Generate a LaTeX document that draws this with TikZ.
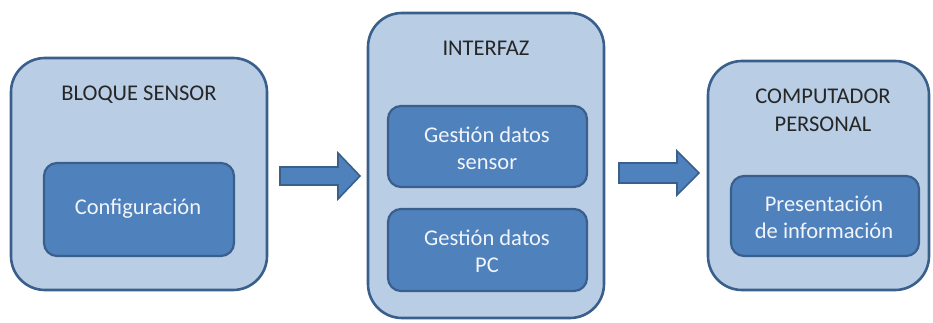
\documentclass[tikz,border=0pt]{standalone}
\usepackage{fontspec}
\setmainfont{Carlito}
\begin{document}
\begin{tikzpicture}[x=1pt,y=-1pt,
  outerbox/.style={draw=edgeblue, line width=2.6pt, fill=paleblue, rounded corners=34pt},
  innerbox/.style={draw=edgeblue, line width=2.2pt, fill=midblue, rounded corners=13pt},
  title/.style={text=black!85, font=\fontsize{22.5}{28}\selectfont, align=center},
  label/.style={text=white!92!midblue, font=\fontsize{22.5}{27}\selectfont, align=center},
  blockarrow/.style={draw=edgeblue, line width=1.6pt, fill=midblue, line join=miter}]
\definecolor{paleblue}{HTML}{B9CDE5}
\definecolor{midblue}{HTML}{4F81BD}
\definecolor{edgeblue}{HTML}{3A5F8C}
\useasboundingbox (0,0) rectangle (933,323);

% sensor block
\draw[outerbox] (11,58) rectangle (267,290);
\node[title] (sensor) at (139,95) {BLOQUE SENSOR};
\draw[innerbox] (44,163) rectangle (234,256);
\node[label] (config) at (138,209) {Configuración};

% interface block
\draw[outerbox] (368,13) rectangle (604,318);
\node[title] (interfaz) at (486,48) {INTERFAZ};
\draw[innerbox] (388,106) rectangle (587,187);
\node[label] (gsensor) at (487,148) {Gestión datos\\sensor};
\draw[innerbox] (388,209) rectangle (587,291);
\node[label] (gpc) at (487,251) {Gestión datos\\PC};

% personal computer block
\draw[outerbox] (708,61) rectangle (929,290);
\node[title] (pc) at (823,110) {COMPUTADOR\\PERSONAL};
\draw[innerbox] (731,176) rectangle (919,256);
\node[label] (present) at (824,217) {Presentación\\de información};

% block arrows between the stages
\draw[blockarrow] (280,167) -- (338,167) -- (338,153) -- (360,176)
  -- (338,199) -- (338,185) -- (280,185) -- cycle;
\draw[blockarrow] (619,163) -- (677,163) -- (677,151) -- (699,173)
  -- (677,195) -- (677,183) -- (619,183) -- cycle;
\end{tikzpicture}
\end{document}
